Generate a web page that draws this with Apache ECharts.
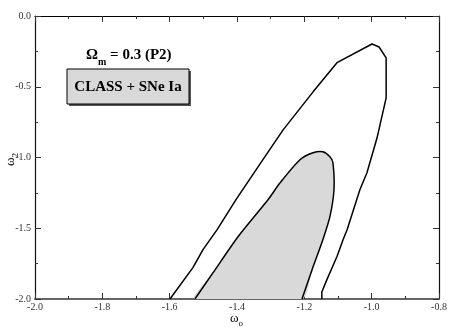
<!DOCTYPE html>
<html>
<head>
<meta charset="utf-8">
<script src="https://cdn.jsdelivr.net/npm/echarts@6.0.0/dist/echarts.min.js"></script>
<style>
  html, body { margin: 0; padding: 0; background: #fff; }
  #chart { width: 457px; height: 332px; }
</style>
</head>
<body>
<div id="chart"></div>
<script>
(() => {
  // outer contour (open line, ends on the bottom axis)
  const outerX = [-1.599, -1.531, -1.501, -1.459, -1.403, -1.333, -1.263, -1.174, -1.103, -0.999, -0.978, -0.957, -0.957, -0.984, -1.014, -1.035, -1.073, -1.085, -1.103, -1.133, -1.148, -1.148];
  const outerY = [-2.0, -1.778, -1.651, -1.51, -1.298, -1.05, -0.805, -0.536, -0.33, -0.198, -0.219, -0.296, -0.579, -0.861, -1.108, -1.228, -1.51, -1.581, -1.70, -1.863, -1.95, -2.0];

  // inner contour (filled)
  const innerX = [-1.525, -1.471, -1.397, -1.308, -1.272, -1.213, -1.174, -1.145, -1.124, -1.115, -1.112, -1.124, -1.145, -1.177, -1.207];
  const innerY = [-2.0, -1.814, -1.56, -1.299, -1.179, -1.016, -0.967, -0.96, -0.995, -1.037, -1.228, -1.418, -1.581, -1.793, -2.0];

  const xTicks = { min: -2.0, max: -0.8, step: 0.2 };
  const yTicks = { min: -2.0, max: 0.0, step: 0.5 };

  const font = 'Liberation Serif';
  const fmt = (v) => (Math.abs(v) < 1e-9 ? 0 : v).toFixed(1);

  const pairs = (xs, ys) => xs.map((x, i) => [x, ys[i]]);

  const chart = echarts.init(document.getElementById('chart'), null, { renderer: 'canvas' });

  const baseX = (show, pos) => ({
    type: 'value',
    position: pos,
    min: xTicks.min,
    max: xTicks.max,
    interval: xTicks.step,
    axisLine: { show: true, onZero: false, lineStyle: { color: pos === 'bottom' ? '#666' : '#000', width: pos === 'bottom' ? 2 : 1.2 } },
    axisTick: { show: true, inside: true, length: 6, lineStyle: { color: '#333' } },
    minorTick: { show: true, splitNumber: 2, length: 3, lineStyle: { color: '#333' } },
    axisLabel: { show, formatter: fmt, fontFamily: font, fontSize: 10, color: '#333', margin: 3 },
    splitLine: { show: false }
  });

  const baseY = (show, pos) => ({
    type: 'value',
    position: pos,
    min: yTicks.min,
    max: yTicks.max,
    interval: yTicks.step,
    axisLine: { show: true, onZero: false, lineStyle: { color: '#111', width: 1.2 } },
    axisTick: { show: true, inside: true, length: 6, lineStyle: { color: '#333' } },
    minorTick: { show: true, splitNumber: 2, length: 3, lineStyle: { color: '#333' } },
    axisLabel: { show, formatter: fmt, fontFamily: font, fontSize: 10, color: '#333', margin: 4 },
    splitLine: { show: false }
  });

  chart.setOption({
    animation: false,
    grid: { left: 35, right: 18, top: 16, bottom: 33, containLabel: false },
    xAxis: [baseX(true, 'bottom'), baseX(false, 'top')],
    yAxis: [baseY(true, 'left'), baseY(false, 'right')],
    series: [
      {
        type: 'custom',
        coordinateSystem: 'cartesian2d',
        data: [0],
        clip: true,
        z: 2,
        renderItem: (params, api) => {
          const pts = innerX.map((x, i) => api.coord([x, innerY[i]]));
          return {
            type: 'group',
            children: [
              { type: 'polygon', shape: { points: pts, smooth: 0.25 }, style: { fill: '#d9d9d9', stroke: null } },
              { type: 'polyline', shape: { points: pts, smooth: 0.25 }, style: { fill: null, stroke: '#000', lineWidth: 1.5 } }
            ]
          };
        }
      },
      {
        type: 'line',
        data: pairs(outerX, outerY),
        showSymbol: false,
        smooth: false,
        z: 3,
        lineStyle: { color: '#000', width: 1.5 }
      }
    ],
    graphic: [
      {
        type: 'text',
        left: 86, top: 48,
        style: {
          text: '{a|Ω}{s|m}{a| = 0.3 (P2)}',
          rich: {
            a: { fontFamily: font, fontWeight: 'bold', fontSize: 15, fill: '#000', lineHeight: 19, verticalAlign: 'top' },
            s: { fontFamily: font, fontWeight: 'bold', fontSize: 10, fill: '#000', lineHeight: 19, verticalAlign: 'bottom' }
          }
        }
      },
      { type: 'rect', shape: { x: 69, y: 71, width: 122, height: 35 }, style: { fill: '#555' }, z: 10 },
      { type: 'rect', shape: { x: 67, y: 69, width: 122, height: 35 }, style: { fill: '#d9d9d9', stroke: '#000', lineWidth: 1 }, z: 11 },
      {
        type: 'text', x: 128, y: 87, z: 12,
        style: { text: 'CLASS + SNe Ia', fontFamily: font, fontWeight: 'bold', fontSize: 15, fill: '#000', align: 'center', verticalAlign: 'middle' }
      },
      {
        type: 'text', left: 230, top: 312,
        style: {
          text: '{a|ω}{s|o}',
          rich: {
            a: { fontFamily: font, fontSize: 13, fill: '#000', lineHeight: 16, verticalAlign: 'top' },
            s: { fontFamily: font, fontSize: 9, fill: '#000', lineHeight: 16, verticalAlign: 'bottom' }
          }
        }
      },
      {
        type: 'text', x: 4, y: 166, rotation: Math.PI / 2,
        style: {
          text: '{a|ω}{s|2}',
          rich: {
            a: { fontFamily: font, fontSize: 13, fill: '#000', lineHeight: 16, verticalAlign: 'top' },
            s: { fontFamily: font, fontSize: 9, fill: '#000', lineHeight: 16, verticalAlign: 'bottom' }
          }
        }
      }
    ]
  });
})();
</script>
</body>
</html>
